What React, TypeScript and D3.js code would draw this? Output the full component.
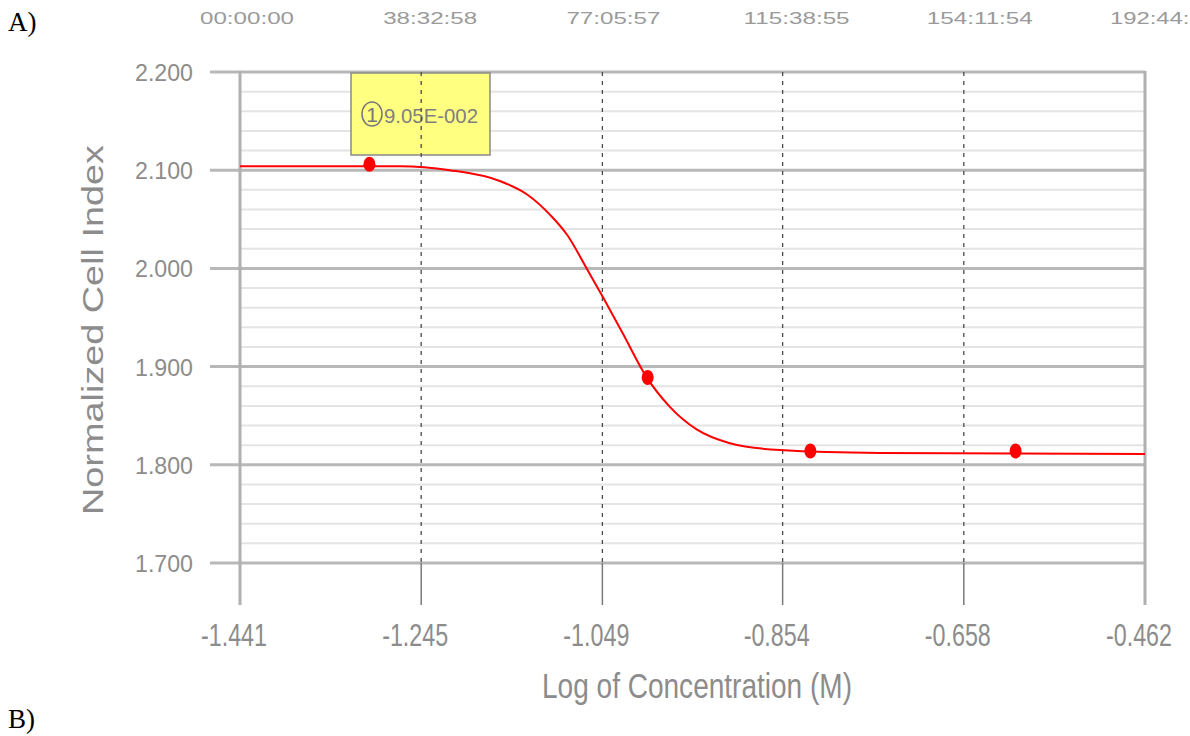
import React from 'react'
import * as d3 from 'd3'

// dose-response points (log concentration, normalized cell index)
const doseX = [-1.301, -1.0, -0.824, -0.602]
const doseY = [2.106, 1.889, 1.814, 1.814]

// fitted curve
const fitX = [-1.441, -1.268, -1.214, -1.16, -1.13, -1.105, -1.087, -1.066, -1.048, -1.027, -1.001, -0.976, -0.947, -0.911, -0.857, -0.749, -0.462]
const fitY = [2.104, 2.104, 2.1, 2.089, 2.075, 2.054, 2.034, 2.0, 1.97, 1.934, 1.889, 1.859, 1.836, 1.822, 1.815, 1.812, 1.811]

const xTicks = [-1.441, -1.245, -1.049, -0.854, -0.658, -0.462]
const yTicks = [1.7, 1.8, 1.9, 2.0, 2.1, 2.2]
const timeLabels = ['00:00:00', '38:32:58', '77:05:57', '115:38:55', '154:11:54', '192:44:53']

const ec50Label = '9.05E-002'

const W = 1190
const H = 736
const left = 240
const right = 1145
const top = 72
const bottom = 563

const App = () => {
  const x = d3.scaleLinear().domain([-1.441, -0.462]).range([left, right])
  const y = d3.scaleLinear().domain([1.7, 2.2]).range([bottom, top])
  const tx = d3.scaleLinear().domain([0, timeLabels.length - 1]).range([247, 1163])

  const minor = y.ticks(25).filter(v => !yTicks.some(t => Math.abs(t - v) < 1e-6))

  const line = d3.line<number>()
    .x((d, i) => x(fitX[i]))
    .y(d => y(d))
    .curve(d3.curveMonotoneX)

  const gray = '#8c8c8c'
  const font = 'Liberation Sans, Arial, sans-serif'

  return (
    <svg width={W} height={H} style={{ position: 'absolute', left: 0, top: 0, background: '#fff' }}>
      <text x={8} y={31} fontFamily="Liberation Serif, Times New Roman, serif" fontSize={27}>A)</text>
      <text x={8} y={728} fontFamily="Liberation Serif, Times New Roman, serif" fontSize={27}>B)</text>

      {timeLabels.map((t, i) => (
        <text key={t} x={tx(i)} y={24} textAnchor="middle" fontFamily={font} fontSize={17}
          fill="#9a9a9a" textLength={t.length > 8 ? 106 : 94} lengthAdjust="spacingAndGlyphs">{t}</text>
      ))}

      {minor.map(v => (
        <line key={v} x1={left} x2={right} y1={y(v)} y2={y(v)} stroke="#e4e4e4" strokeWidth={2} />
      ))}
      {yTicks.map(v => (
        <line key={v} x1={210} x2={right} y1={y(v)} y2={y(v)} stroke="#b8b8b8" strokeWidth={3} />
      ))}

      <rect x={351} y={73} width={139} height={82} fill="#ffff80" stroke="#8a8a8a" strokeWidth={1.5} />
      <ellipse cx={372} cy={114} rx={10} ry={12} fill="none" stroke="#777" strokeWidth={1.5} />
      <text x={372} y={122} textAnchor="middle" fontFamily={font} fontSize={21} fill="#777">1</text>
      <text x={384} y={123} fontFamily={font} fontSize={21} fill="#808080"
        textLength={94} lengthAdjust="spacingAndGlyphs">{ec50Label}</text>

      {xTicks.slice(1, -1).map(v => (
        <g key={v}>
          <line x1={x(v)} x2={x(v)} y1={top} y2={bottom} stroke="#4a4a4a" strokeWidth={1.3} strokeDasharray="4,5" />
          <line x1={x(v)} x2={x(v)} y1={bottom} y2={605} stroke="#7a7a7a" strokeWidth={1.5} />
        </g>
      ))}
      <line x1={left} x2={left} y1={top - 1} y2={605} stroke="#b0b0b0" strokeWidth={3} />
      <line x1={right} x2={right} y1={top - 1} y2={605} stroke="#b0b0b0" strokeWidth={3} />

      {yTicks.map(v => (
        <text key={v} x={193} y={y(v) + 9} textAnchor="end" fontFamily={font} fontSize={24}
          fill={gray} textLength={58} lengthAdjust="spacingAndGlyphs">{v.toFixed(3)}</text>
      ))}
      {xTicks.map(v => (
        <text key={v} x={x(v) - 6} y={646} textAnchor="middle" fontFamily={font} fontSize={32}
          fill={gray} textLength={66} lengthAdjust="spacingAndGlyphs">{v.toFixed(3)}</text>
      ))}

      <text x={697} y={698} textAnchor="middle" fontFamily={font} fontSize={35} fill={gray}
        textLength={310} lengthAdjust="spacingAndGlyphs">Log of Concentration (M)</text>
      <text transform="translate(103,330) rotate(-90)" textAnchor="middle" fontFamily={font} fontSize={29}
        fill={gray} textLength={370} lengthAdjust="spacingAndGlyphs">Normalized Cell Index</text>

      <path d={line(fitY) || ''} fill="none" stroke="#ff0000" strokeWidth={2} />
      {doseX.map((d, i) => (
        <ellipse key={d} cx={x(d)} cy={y(doseY[i])} rx={6} ry={7.5} fill="#ff0000" />
      ))}
    </svg>
  )
}

export default App
